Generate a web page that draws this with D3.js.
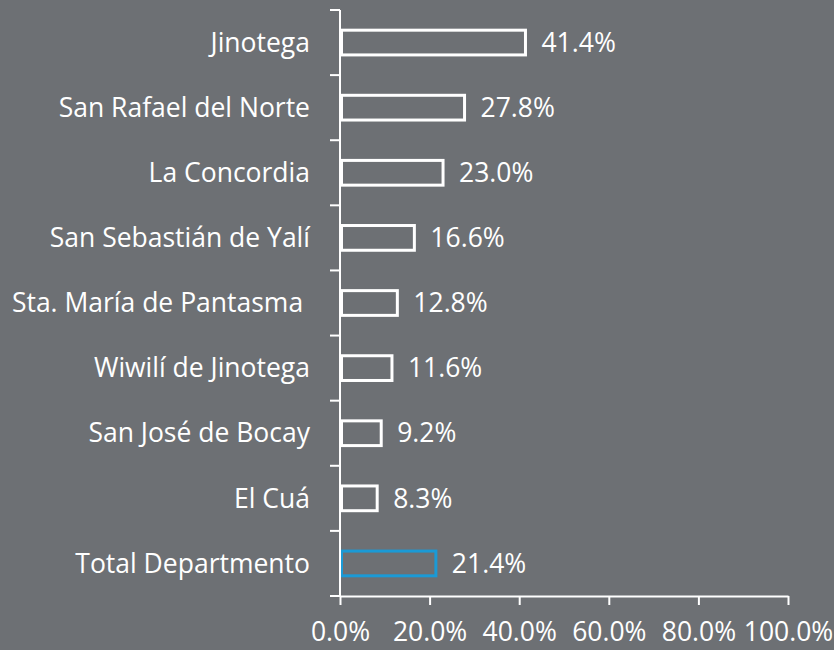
<!DOCTYPE html>
<html>
<head>
<meta charset="utf-8">
<script src="https://d3js.org/d3.v7.min.js"></script>
<style>
  html, body { margin: 0; padding: 0; background: #6d7074; }
  svg { display: block; font-family: "Open Sans", sans-serif; }
</style>
</head>
<body>
<div id="chart"></div>
<script>
const categories = ["Jinotega", "San Rafael del Norte", "La Concordia", "San Sebastián de Yalí",
    "Sta. María de Pantasma ", "Wiwilí de Jinotega", "San José de Bocay", "El Cuá", "Total Departmento"];
const values = [41.4, 27.8, 23.0, 16.6, 12.8, 11.6, 9.2, 8.3, 21.4];
const xTicks = [0, 20, 40, 60, 80, 100];

const width = 834, height = 650;
const margin = { top: 10, right: 46, bottom: 54, left: 340 };
const fontSize = "26.5px";

const svg = d3.select("#chart")
    .append("svg")
    .attr("width", width)
    .attr("height", height);

const g = svg.append("g")
    .attr("transform", `translate(${margin.left},${margin.top})`);

const innerW = width - margin.left - margin.right;
const innerH = height - margin.top - margin.bottom;

const x = d3.scaleLinear().domain([0, 100]).range([0, innerW]);
const y = d3.scaleBand().domain(categories).range([0, innerH]).paddingInner(0.62).paddingOuter(0.31);

const bandStep = innerH / categories.length;

// bars
g.selectAll(".bar")
    .data(categories)
    .enter()
    .append("rect")
    .attr("class", "bar")
    .attr("x", 1.5)
    .attr("y", d => y(d))
    .attr("width", (d, i) => x(values[i]) - 1.5)
    .attr("height", y.bandwidth())
    .attr("fill", "none")
    .attr("stroke", (d, i) => i === categories.length - 1 ? "#1b9ad6" : "#fff")
    .attr("stroke-width", 3);

// value labels
g.selectAll(".val")
    .data(categories)
    .enter()
    .append("text")
    .attr("x", (d, i) => x(values[i]) + 16)
    .attr("y", d => y(d) + y.bandwidth() / 2)
    .attr("dy", "0.35em")
    .attr("fill", "#fff")
    .style("font-size", fontSize)
    .text((d, i) => values[i].toFixed(1) + "%");

// category labels
g.selectAll(".cat")
    .data(categories)
    .enter()
    .append("text")
    .attr("x", -30)
    .attr("y", d => y(d) + y.bandwidth() / 2)
    .attr("dy", "0.35em")
    .attr("text-anchor", "end")
    .attr("fill", "#fff")
    .style("font-size", fontSize)
    .style("white-space", "pre")
    .text(d => d);

// y axis line and boundary ticks
g.append("line")
    .attr("x1", 0).attr("x2", 0)
    .attr("y1", 0).attr("y2", innerH)
    .attr("stroke", "#fff").attr("stroke-width", 2);

g.selectAll(".ytick")
    .data(d3.range(categories.length + 1))
    .enter()
    .append("line")
    .attr("x1", -10).attr("x2", 0)
    .attr("y1", i => i * bandStep)
    .attr("y2", i => i * bandStep)
    .attr("stroke", "#fff").attr("stroke-width", 2);

// x axis
const xAxis = g.append("g")
    .attr("transform", `translate(0,${innerH})`)
    .call(d3.axisBottom(x).tickValues(xTicks).tickSize(9).tickSizeOuter(0)
        .tickFormat(d => d.toFixed(1) + "%"));

xAxis.select(".domain").attr("stroke", "#fff").attr("stroke-width", 2);
xAxis.selectAll(".tick line").attr("stroke", "#fff").attr("stroke-width", 2);
xAxis.selectAll(".tick text")
    .attr("fill", "#fff")
    .attr("y", 26)
    .style("font-size", fontSize)
    .style("font-family", "Open Sans, sans-serif");
</script>
</body>
</html>
